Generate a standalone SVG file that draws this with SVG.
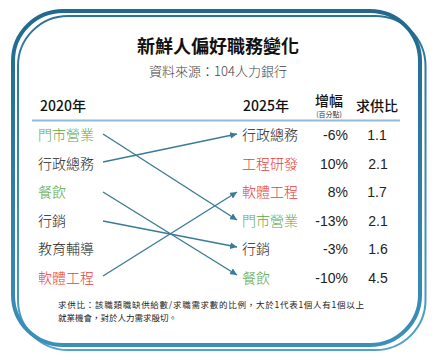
<svg xmlns="http://www.w3.org/2000/svg" width="436" height="360" viewBox="0 0 436 360">
<defs>
<linearGradient id="gThick" x1="0" y1="0" x2="0" y2="1">
<stop offset="0" stop-color="#226a8d"/>
<stop offset="1" stop-color="#3b90ba"/>
</linearGradient>
<linearGradient id="gThin" x1="0" y1="0" x2="0" y2="1">
<stop offset="0" stop-color="#2a7399"/>
<stop offset="1" stop-color="#4fa2cb"/>
</linearGradient>
<marker id="arr" viewBox="0 0 10 10" refX="10" refY="5" markerWidth="7" markerHeight="7" markerUnits="userSpaceOnUse" orient="auto">
<path d="M0,0 L10,5 L0,10 Z" fill="#3b7b95"/>
</marker>
<style>
text{font-family:"Noto Sans CJK TC","Noto Sans CJK SC",sans-serif;fill:#222}
.num{font-family:"Liberation Sans","Noto Sans CJK TC",sans-serif;font-size:14px;fill:#222}
.lab{font-size:14px;font-weight:300}
.g{fill:#5ba83d}
.r{fill:#e5403b}
.hd{font-size:14px;font-weight:500;fill:#111}
.note{font-size:8.5px;fill:#222}
.conn line{stroke:#3b7b95;stroke-width:1.4;fill:none}
</style>
</defs>
<rect x="0" y="0" width="436" height="360" fill="#ffffff"/>
<g id="frame" fill="none">
<rect x="18" y="16" width="407.5" height="334" rx="50" stroke="url(#gThin)" stroke-width="2"/>
<rect x="13" y="11" width="407" height="334" rx="50" stroke="url(#gThick)" stroke-width="4"/>
</g>
<g id="title">
<text x="218" y="53" text-anchor="middle" font-size="18" font-weight="bold" style="fill:#111">新鮮人偏好職務變化</text>
<text x="218" y="76" text-anchor="middle" font-size="13" font-weight="300" style="fill:#444">資料來源：104人力銀行</text>
</g>
<g id="header">
<text x="40" y="111" class="hd">2020年</text>
<text x="243" y="111" class="hd">2025年</text>
<text x="329" y="106" text-anchor="middle" class="hd">增幅</text>
<text x="329" y="117" text-anchor="middle" font-size="7" style="fill:#333">(百分點)</text>
<text x="377" y="111" text-anchor="middle" class="hd">求供比</text>
<line x1="32" y1="120.5" x2="400" y2="120.5" stroke="#92bcd8" stroke-width="2"/>
</g>
<g id="left">
<text id="L1" x="38" y="140" class="lab g">門市營業</text>
<text id="L2" x="38" y="169" class="lab">行政總務</text>
<text id="L3" x="38" y="197" class="lab g">餐飲</text>
<text id="L4" x="38" y="226" class="lab">行銷</text>
<text id="L5" x="38" y="254" class="lab">教育輔導</text>
<text id="L6" x="38" y="283" class="lab r">軟體工程</text>
</g>
<g id="right">
<g id="R1"><text x="242" y="140" class="lab">行政總務</text><text x="348" y="140" text-anchor="end" class="num">-6%</text><text x="377" y="140" text-anchor="middle" class="num">1.1</text></g>
<g id="R2"><text x="242" y="169" class="lab r">工程研發</text><text x="348" y="169" text-anchor="end" class="num">10%</text><text x="378" y="169" text-anchor="middle" class="num">2.1</text></g>
<g id="R3"><text x="242" y="197" class="lab r">軟體工程</text><text x="348" y="197" text-anchor="end" class="num">8%</text><text x="377" y="197" text-anchor="middle" class="num">1.7</text></g>
<g id="R4"><text x="242" y="226" class="lab g">門市營業</text><text x="348" y="226" text-anchor="end" class="num">-13%</text><text x="378" y="226" text-anchor="middle" class="num">2.1</text></g>
<g id="R5"><text x="242" y="254" class="lab">行銷</text><text x="348" y="254" text-anchor="end" class="num">-3%</text><text x="378" y="254" text-anchor="middle" class="num">1.6</text></g>
<g id="R6"><text x="242" y="283" class="lab g">餐飲</text><text x="348" y="283" text-anchor="end" class="num">-10%</text><text x="378" y="283" text-anchor="middle" class="num">4.5</text></g>
</g>
<g id="connectors" class="conn">
<line x1="103" y1="134" x2="237" y2="220" marker-end="url(#arr)"/>
<line x1="103" y1="162" x2="237" y2="134" marker-end="url(#arr)"/>
<line x1="103" y1="192" x2="237" y2="275" marker-end="url(#arr)"/>
<line x1="103" y1="221" x2="237" y2="247" marker-end="url(#arr)"/>
<line x1="103" y1="276" x2="237" y2="192" marker-end="url(#arr)"/>
</g>
<g id="note">
<text x="58" y="308" class="note" textLength="306" lengthAdjust="spacing">求供比：該職類職缺供給數/求職需求數的比例，大於1代表1個人有1個以上</text>
<text x="58" y="320.5" class="note">就業機會，對於人力需求殷切。</text>
</g>
</svg>
